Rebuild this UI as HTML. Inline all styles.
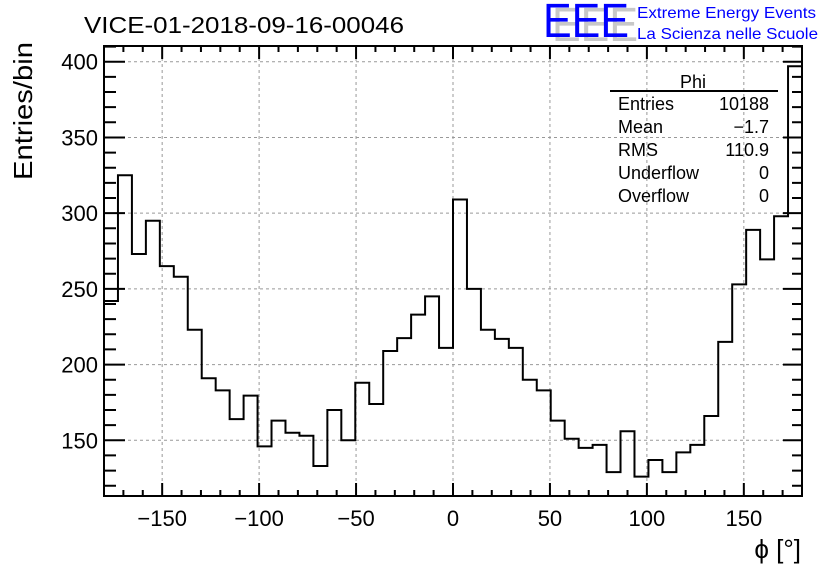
<!DOCTYPE html>
<html><head><meta charset="utf-8"><style>
body{margin:0;background:#fff;}
svg{display:block;font-family:"Liberation Sans",sans-serif;}
</style></head><body>
<svg id="chart" width="836" height="572" viewBox="0 0 836 572">
<rect width="836" height="572" fill="#fff"/>
<text x="84" y="33" font-size="23" textLength="320" lengthAdjust="spacingAndGlyphs">VICE-01-2018-09-16-00046</text>
<g>
<text x="552" y="41" font-size="48" fill="#c8c8c8" textLength="86" lengthAdjust="spacingAndGlyphs">EEE</text>
<text x="543" y="37" font-size="48" fill="#0000ff" textLength="86" lengthAdjust="spacingAndGlyphs">EEE</text>
<text x="637" y="18" font-size="16" fill="#0000ff" textLength="179" lengthAdjust="spacingAndGlyphs">Extreme Energy Events</text>
<text x="637" y="39" font-size="16" fill="#0000ff" textLength="181" lengthAdjust="spacingAndGlyphs">La Scienza nelle Scuole</text>
</g>
<g id="grid"></g>
<g id="ticks"></g>
<path id="hist" fill="none" stroke="#000" stroke-width="2"/>
<rect x="104" y="46" width="698" height="450" fill="none" stroke="#000" stroke-width="2"/>
<g id="xlabels" font-size="22" text-anchor="middle"></g>
<g id="ylabels" font-size="22" text-anchor="end"></g>
<text transform="translate(32,180) rotate(-90)" font-size="26" textLength="138" lengthAdjust="spacingAndGlyphs">Entries/bin</text>
<text x="801" y="558" font-size="26" text-anchor="end">ϕ [°]</text>
<g font-size="18">
<text x="693" y="88" text-anchor="middle">Phi</text>
<line x1="610" y1="91" x2="778" y2="91" stroke="#000" stroke-width="2"/>
<text x="618" y="110">Entries</text><text x="769" y="110" text-anchor="end">10188</text>
<text x="618" y="133">Mean</text><text x="769" y="133" text-anchor="end">−1.7</text>
<text x="618" y="156">RMS</text><text x="769" y="156" text-anchor="end">110.9</text>
<text x="618" y="179">Underflow</text><text x="769" y="179" text-anchor="end">0</text>
<text x="618" y="202">Overflow</text><text x="769" y="202" text-anchor="end">0</text>
</g>
</svg>
<script>
const counts = [242,325,273,295,265,258,223,191,183,164,179.5,146,163,155,153,133,170,150,188,174,209,217.5,233,245,211,309,250,223,217,211,190,183,163,151,145,147,129,156,126,137,129,142,147,166,215,253,289,269.5,298,397];
const xTicks = [-150,-100,-50,0,50,100,150];
const yTicks = [150,200,250,300,350,400];
const xMin=-180,xMax=180,yMin=113.2,yMax=410.4;
const L=104,R=802,T=46,B=496;
const sx=v=>L+(v-xMin)/(xMax-xMin)*(R-L);
const sy=v=>B-(v-yMin)/(yMax-yMin)*(B-T);
const NS="http://www.w3.org/2000/svg";
function mk(tag,attrs,parent){const e=document.createElementNS(NS,tag);for(const k in attrs)e.setAttribute(k,attrs[k]);parent.appendChild(e);return e;}
const grid=document.getElementById('grid'),ticks=document.getElementById('ticks');
const xl=document.getElementById('xlabels'),yl=document.getElementById('ylabels');
xTicks.forEach(v=>{const l=mk('line',{x1:sx(v),x2:sx(v),y1:T,y2:B,stroke:'#999','stroke-dasharray':'3,3'},grid);


const t=mk('text',{x:sx(v),y:B+30},xl);t.textContent=(v<0?'−'+(-v):v);

});
yTicks.forEach(v=>{const l=mk('line',{x1:L,x2:R,y1:sy(v),y2:sy(v),stroke:'#999','stroke-dasharray':'3,3'},grid);


const t=mk('text',{x:L-6,y:sy(v)+8},yl);t.textContent=v;

});
let d='';
for(let v=-180;v<=180;v+=10){const maj=v%50===0;const len=maj?13:6;
d+=`M${sx(v)},${B}v${-len}M${sx(v)},${T}v${len}`;}
for(let v=120;v<=410;v+=10){const maj=v%50===0;
d+=`M${L},${sy(v)}h${maj?21:12}M${R},${sy(v)}h${-(maj?19:10)}`;}
mk('path',{d:d,stroke:'#000','stroke-width':2,fill:'none'},ticks);
const w=(xMax-xMin)/counts.length;
let p=`M${sx(xMin)},${B}`;
counts.forEach((c,i)=>{p+=`L${sx(xMin+i*w)},${sy(c)}L${sx(xMin+(i+1)*w)},${sy(c)}`;});
p+=`L${sx(xMax)},${B}`;
document.getElementById('hist').setAttribute('d',p);
</script>
</body></html>
